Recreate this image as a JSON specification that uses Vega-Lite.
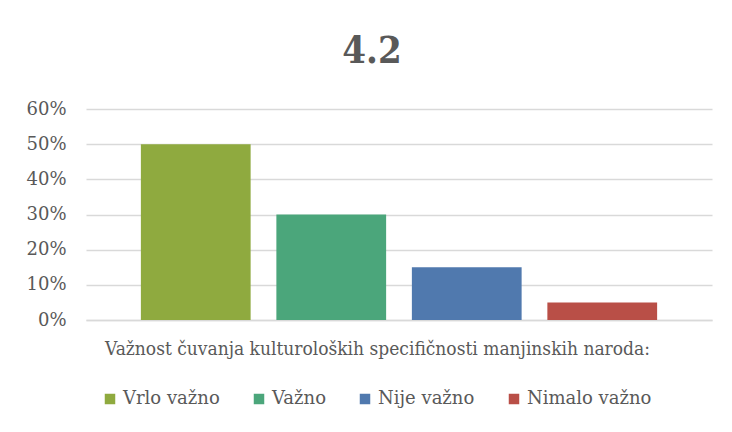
{
  "$schema": "https://vega.github.io/schema/vega-lite/v6.json",
  "width": 626,
  "height": 211,
  "autosize": {"type": "none"},
  "padding": {"left": 86, "top": 109, "right": 20, "bottom": 112},
  "background": "white",
  "title": {
    "text": "4.2",
    "font": "DejaVu Serif Condensed",
    "fontSize": 38,
    "fontWeight": "bold",
    "color": "#595959",
    "anchor": "middle",
    "frame": "group",
    "dx": -27,
    "offset": 29
  },
  "data": {
    "values": [
      {"odgovor": "Vrlo važno", "udio": 0.50},
      {"odgovor": "Važno", "udio": 0.30},
      {"odgovor": "Nije važno", "udio": 0.15},
      {"odgovor": "Nimalo važno", "udio": 0.05}
    ]
  },
  "mark": {"type": "bar"},
  "encoding": {
    "x": {
      "field": "odgovor",
      "type": "nominal",
      "sort": null,
      "scale": {"paddingInner": 0.19, "paddingOuter": 0.405},
      "axis": {
        "title": "Važnost čuvanja kulturoloških specifičnosti manjinskih naroda:",
        "labels": false,
        "ticks": false,
        "domain": true,
        "domainColor": "#d9d9d9",
        "domainWidth": 1.5,
        "titleFont": "DejaVu Serif Condensed",
        "titleFontSize": 19,
        "titleFontWeight": "normal",
        "titleColor": "#595959",
        "titlePadding": 19,
        "titleX": 291
      }
    },
    "y": {
      "field": "udio",
      "type": "quantitative",
      "scale": {"domain": [0, 0.6]},
      "axis": {
        "title": null,
        "format": ".0%",
        "values": [0, 0.1, 0.2, 0.3, 0.4, 0.5, 0.6],
        "domain": false,
        "ticks": false,
        "labelFont": "DejaVu Serif",
        "labelFontSize": 18,
        "labelColor": "#595959",
        "labelPadding": 20,
        "gridColor": "#d9d9d9",
        "gridWidth": 1.5
      }
    },
    "color": {
      "field": "odgovor",
      "type": "nominal",
      "sort": null,
      "scale": {
        "domain": ["Vrlo važno", "Važno", "Nije važno", "Nimalo važno"],
        "range": ["#8FAA3F", "#4BA67B", "#5079AE", "#B94F47"]
      },
      "legend": {
        "title": null,
        "orient": "none",
        "direction": "horizontal",
        "legendX": 15,
        "legendY": 281,
        "symbolType": "square",
        "symbolSize": 110,
        "symbolStrokeWidth": 0,
        "labelFont": "DejaVu Serif",
        "labelFontSize": 18,
        "labelColor": "#595959",
        "labelOffset": 4,
        "columnPadding": 30
      }
    }
  },
  "config": {
    "view": {"stroke": null}
  }
}
